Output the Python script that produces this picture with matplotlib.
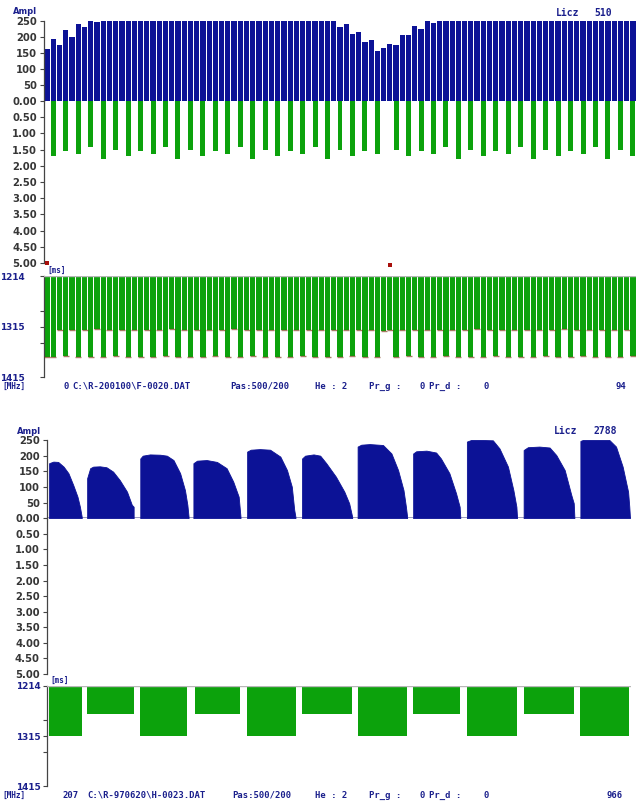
import matplotlib
matplotlib.use("Agg")
import matplotlib.pyplot as plt

# ---------------- data: upper recording (F-0020) ----------------
top_index = list(range(95))
top_amp = [163, 193, 175, 222, 200, 242, 230, 250, 248, 250,
           250, 250, 250, 250, 250, 250, 250, 250, 250, 250,
           250, 250, 250, 250, 250, 250, 250, 250, 250, 250,
           250, 250, 250, 250, 250, 250, 250, 250, 250, 250,
           250, 250, 250, 250, 250, 250, 250, 232, 242, 210,
           216, 184, 191, 156, 165, 179, 175, 207, 206, 234,
           226, 250, 245, 250, 250, 250, 250, 250, 250, 250,
           250, 250, 250, 250, 250, 250, 250, 250, 250, 250,
           250, 250, 250, 250, 250, 250, 250, 250, 250, 250,
           250, 250, 250, 250, 250]
top_green_idx = [1, 3, 5, 7, 9, 11, 13, 15, 17, 19, 21, 23, 25, 27, 29, 31,
                 33, 35, 37, 39, 41, 43, 45, 47, 49, 51, 53,
                 56, 58, 60, 62, 64, 66, 68, 70, 72, 74, 76, 78, 80, 82,
                 84, 86, 88, 90, 92, 94]
top_green_val = [1.71, 1.55, 1.63, 1.43, 1.79, 1.50, 1.71, 1.55, 1.63, 1.43,
                 1.79, 1.50, 1.71, 1.55, 1.63, 1.43, 1.79, 1.50, 1.71, 1.55,
                 1.63, 1.43, 1.79, 1.50, 1.71, 1.55, 1.63,
                 1.50, 1.71, 1.55, 1.63, 1.43, 1.79, 1.50, 1.71, 1.55, 1.63,
                 1.43, 1.79, 1.50, 1.71, 1.55, 1.63, 1.43, 1.79, 1.50, 1.71]
top_ms = [1376, 1375, 1322, 1374, 1321, 1375, 1322, 1375, 1320, 1376,
          1322, 1374, 1321, 1375, 1322, 1376, 1321, 1375, 1322, 1374,
          1320, 1375, 1322, 1376, 1321, 1375, 1322, 1374, 1321, 1375,
          1320, 1376, 1322, 1374, 1321, 1375, 1322, 1375, 1321, 1376,
          1322, 1374, 1321, 1375, 1322, 1376, 1321, 1375, 1322, 1374,
          1321, 1375, 1322, 1376, 1323, 1322, 1375, 1321, 1374, 1322,
          1375, 1321, 1376, 1322, 1374, 1321, 1375, 1322, 1376, 1320,
          1375, 1322, 1374, 1321, 1375, 1322, 1376, 1321, 1375, 1322,
          1374, 1321, 1375, 1320, 1376, 1322, 1374, 1321, 1375, 1322,
          1376, 1321, 1375, 1322, 1374]
top_marker_idx = [0, 55]
top_marker_val = [5.00, 5.05]

# ---------------- data: lower recording (H-0023) ----------------
bump_samples = [
    [4, 11, 19, 28, 36, 44, 51, 55, 58],
    [67, 72, 77, 88, 99, 110, 121, 133, 141, 144],
    [155, 159, 171, 188, 199, 210, 221, 229, 233, 235],
    [243, 249, 265, 282, 298, 309, 318, 321],
    [332, 338, 353, 370, 387, 398, 406, 410, 412],
    [423, 428, 442, 453, 463, 479, 493, 501, 506],
    [515, 521, 535, 557, 571, 582, 591, 595, 597],
    [607, 612, 629, 645, 653, 667, 678, 684, 685],
    [696, 703, 722, 739, 750, 764, 773, 778, 779],
    [790, 797, 816, 833, 844, 858, 869, 873, 874],
    [884, 888, 910, 932, 943, 954, 963, 965, 966],
]
bump_amps = [
    [176, 181, 180, 165, 144, 106, 69, 37, 5],
    [128, 160, 165, 166, 163, 149, 122, 85, 43, 37],
    [191, 200, 204, 203, 200, 186, 144, 90, 43, 5],
    [176, 184, 186, 180, 160, 117, 69, 5],
    [213, 219, 221, 219, 197, 154, 101, 27, 5],
    [191, 200, 204, 200, 176, 133, 85, 48, 5],
    [229, 235, 237, 234, 207, 154, 90, 37, 5],
    [207, 214, 216, 210, 191, 144, 80, 37, 5],
    [245, 250, 250, 249, 223, 165, 90, 37, 5],
    [218, 227, 229, 226, 202, 154, 74, 48, 5],
    [247, 250, 250, 250, 229, 165, 85, 37, 5],
]
block_start = [3, 67, 155, 245, 332, 423, 515, 607, 696, 790, 884]
block_end = [58, 144, 233, 321, 413, 506, 597, 685, 779, 874, 965]
block_ms = [1315, 1270, 1315, 1271, 1315, 1270, 1315, 1270, 1315, 1271, 1315]

amp_ticks = [50, 100, 150, 200, 250]
amp_labels = ["50", "100", "150", "200", "250"]
att_ticks = [0, 0.5, 1, 1.5, 2, 2.5, 3, 3.5, 4, 4.5, 5]
att_labels = ["0.00", "0.50", "1.00", "1.50", "2.00", "2.50", "3.00",
              "3.50", "4.00", "4.50", "5.00"]
ms_ticks = [1214, 1315, 1415]
ms_labels = ["1214", "1315", "1415"]
ms_minor = [1283, 1347]

# ---------------- styling ----------------
BLUE = "#0c1296"
GREEN = "#0ca20c"
NAVY = "#1a1f8c"
DARK = "#363636"
W, H = 636, 801
fig = plt.figure(figsize=(W / 100, H / 100), dpi=100)
fig.patch.set_facecolor("white")


def rect(l, t, r, b):
    return [l / W, 1 - b / H, (r - l) / W, (b - t) / H]


def style(ax, ticks, labels, color=DARK, pad=2.0, ha="right", minor=None,
          size=7.2):
    for s in ["top", "right", "bottom"]:
        ax.spines[s].set_visible(False)
    ax.spines["left"].set_color("#444444")
    ax.spines["left"].set_linewidth(0.9)
    ax.set_xticks([])
    ax.set_yticks(ticks)
    ax.set_yticklabels(labels)
    ax.tick_params(axis="y", length=3, width=0.8, color="#444444", pad=pad,
                   labelsize=size, labelcolor=color)
    for t in ax.get_yticklabels():
        t.set_fontweight("bold")
        t.set_horizontalalignment(ha)
    if minor is not None:
        ax.set_yticks(minor, minor=True)
        ax.tick_params(axis="y", which="minor", length=3, width=0.8,
                       color="#444444")
    ax.set_facecolor("none")


def ftext(x, y, s, size=6.4, ha="left", color=NAVY, family="DejaVu Sans Mono"):
    fig.text(x / W, 1 - y / H, s, fontsize=size, ha=ha, va="center",
             color=color, fontweight="bold", family=family)


# ================= upper chart =================
a1 = fig.add_axes(rect(44, 21, 636, 101))
a1.bar(top_index, top_amp, width=0.84, color=BLUE, linewidth=0)
a1.set_xlim(-0.5, 94.5)
a1.set_ylim(0, 250)
style(a1, amp_ticks, amp_labels)

a2 = fig.add_axes(rect(44, 101, 636, 263))
a2.bar(top_green_idx, top_green_val, width=0.8, color=GREEN, linewidth=0)
a2.scatter(top_marker_idx, top_marker_val, marker="s", s=11, color="#a8100c",
           clip_on=False, zorder=5, linewidths=0)
a2.set_xlim(-0.5, 94.5)
a2.set_ylim(5, 0)
style(a2, att_ticks, att_labels)

a3 = fig.add_axes(rect(44, 276, 636, 377))
a3.bar(top_index, [d - 1214 for d in top_ms], bottom=1214, width=0.84,
       color=GREEN, linewidth=0)
a3.scatter(top_index, top_ms, marker="_", s=14, color="#7a3412",
           linewidths=1.0, alpha=0.65, zorder=4)
a3.axhline(1214, color="#b8b8b8", lw=1.0, zorder=5)
a3.set_xlim(-0.5, 94.5)
a3.set_ylim(1415, 1214)
style(a3, ms_ticks, ms_labels, color=NAVY, pad=28.5, ha="left",
      minor=ms_minor, size=6.4)
a3.get_yticklabels()[-1].set_y(1412)

ftext(13, 12, "Ampl", size=6.0, family="DejaVu Sans")
ftext(556, 12.5, "Licz", size=7.0)
ftext(594, 12.5, "510", size=7.0)
ftext(47, 270.5, "[ms]", size=5.5)
ftext(2, 386, "[MHz]", size=5.6)
ftext(63, 386, "0")
ftext(72, 386, "C:\\R-200100\\F-0020.DAT")
ftext(230, 386, "Pas:500/200")
ftext(315, 386, "He : 2")
ftext(369, 386, "Pr_g :")
ftext(419, 386, "0")
ftext(429, 386, "Pr_d :")
ftext(483, 386, "0")
ftext(626, 386, "94", ha="right")

# ================= lower chart =================
b1 = fig.add_axes(rect(46.7, 440, 630.5, 518.3))
for xs, ys in zip(bump_samples, bump_amps):
    b1.fill_between(xs, 0, ys, color=BLUE, linewidth=0.6, edgecolor=BLUE)
b1.axhline(0, color="#8c8cb4", lw=1.2, zorder=0)
b1.set_xlim(0, 967)
b1.set_ylim(0, 250)
style(b1, amp_ticks, amp_labels)

b2 = fig.add_axes(rect(46.7, 518.3, 630.5, 674))
b2.set_xlim(0, 967)
b2.set_ylim(5, 0)
style(b2, att_ticks, att_labels)

b3 = fig.add_axes(rect(46.7, 685.7, 630.5, 786))
b3.bar(block_start, [d - 1214 for d in block_ms], bottom=1214,
       width=[e - s for s, e in zip(block_start, block_end)], align="edge",
       color=GREEN, linewidth=0)
b3.axhline(1214, color="#b8b8b8", lw=1.0, zorder=5)
b3.set_xlim(0, 967)
b3.set_ylim(1415, 1214)
style(b3, ms_ticks, ms_labels, color=NAVY, pad=1.5, minor=ms_minor, size=6.4)

ftext(17, 432, "Ampl", size=6.0, family="DejaVu Sans")
ftext(554, 431, "Licz", size=7.0)
ftext(593, 431, "2788", size=7.0)
ftext(50, 680.5, "[ms]", size=5.5)
ftext(2, 795, "[MHz]", size=5.6)
ftext(62, 795, "207")
ftext(87, 795, "C:\\R-970620\\H-0023.DAT")
ftext(232, 795, "Pas:500/200")
ftext(315, 795, "He : 2")
ftext(369, 795, "Pr_g :")
ftext(419, 795, "0")
ftext(429, 795, "Pr_d :")
ftext(483, 795, "0")
ftext(623, 795, "966", ha="right")

fig.savefig("out.png", dpi=100, facecolor="white")
